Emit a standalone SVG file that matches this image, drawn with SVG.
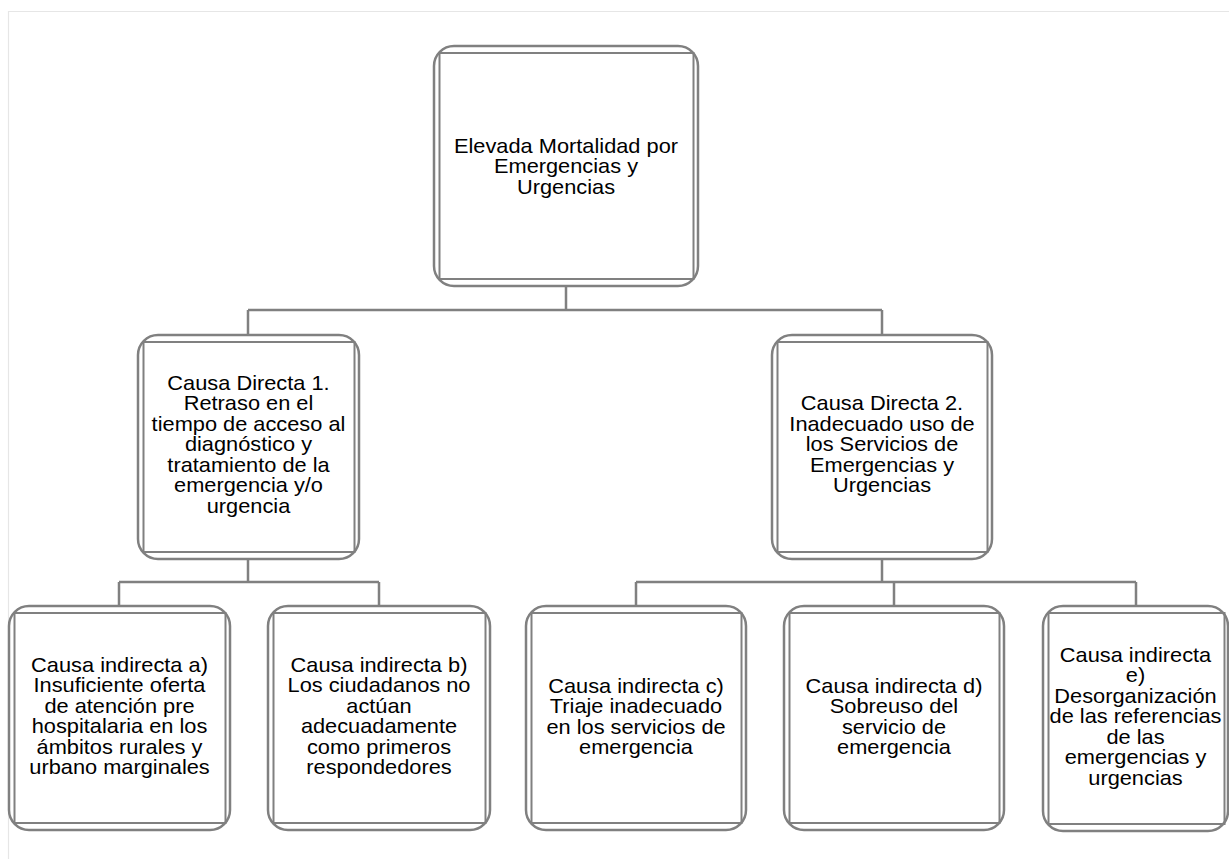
<svg xmlns="http://www.w3.org/2000/svg" width="1229" height="859" viewBox="0 0 1229 859">
<style>
.frame{fill:none;stroke:#e6e6e6;stroke-width:1.2}
.outer{fill:#ffffff;stroke:#808080;stroke-width:2.5}
.inner{fill:none;stroke:#808080;stroke-width:2}
.conn{fill:none;stroke:#808080;stroke-width:2.5}
.lbl{font-family:"Liberation Sans",Arial,sans-serif;font-size:20px;fill:#000000;text-anchor:middle}
</style>
<rect width="1229" height="859" fill="#ffffff"/>
<path class="frame" d="M8.5,859 V11.5 H1229"/>
<g id="connectors">
<path class="conn" d="M566,286 V310 M248,310 H882 M248,310 V335 M882,310 V335"/>
<path class="conn" d="M248,559 V582 M119,582 H379 M119,582 V606 M379,582 V606"/>
<path class="conn" d="M882,559 V582 M636,582 H1136 M636,582 V606 M894,582 V606 M1136,582 V606"/>
</g>
<g id="node-top">
<rect class="outer" x="434" y="46" width="264" height="240" rx="20"/>
<rect class="inner" x="439.5" y="53" width="254" height="226"/>
<text class="lbl" transform="translate(566,0) scale(1.09,1)"><tspan x="0" y="153">Elevada Mortalidad por</tspan><tspan x="0" y="173.5">Emergencias y</tspan><tspan x="0" y="194">Urgencias</tspan></text>
</g>
<g id="node-d1">
<rect class="outer" x="138" y="335" width="221" height="224" rx="20"/>
<rect class="inner" x="143.5" y="342" width="211" height="210"/>
<text class="lbl" transform="translate(248.5,0) scale(1.09,1)"><tspan x="0" y="390">Causa Directa 1.</tspan><tspan x="0" y="410.5">Retraso en el</tspan><tspan x="0" y="431">tiempo de acceso al</tspan><tspan x="0" y="451.5">diagnóstico y</tspan><tspan x="0" y="472">tratamiento de la</tspan><tspan x="0" y="492.5">emergencia y/o</tspan><tspan x="0" y="513">urgencia</tspan></text>
</g>
<g id="node-d2">
<rect class="outer" x="772" y="335" width="220" height="224" rx="20"/>
<rect class="inner" x="777.5" y="342" width="210" height="210"/>
<text class="lbl" transform="translate(882,0) scale(1.09,1)"><tspan x="0" y="410.5">Causa Directa 2.</tspan><tspan x="0" y="431">Inadecuado uso de</tspan><tspan x="0" y="451.5">los Servicios de</tspan><tspan x="0" y="472">Emergencias y</tspan><tspan x="0" y="492.5">Urgencias</tspan></text>
</g>
<g id="node-a">
<rect class="outer" x="9" y="606" width="221" height="224" rx="20"/>
<rect class="inner" x="14.5" y="613" width="211" height="210"/>
<text class="lbl" transform="translate(119.5,0) scale(1.09,1)"><tspan x="0" y="672">Causa indirecta a)</tspan><tspan x="0" y="692.5">Insuficiente oferta</tspan><tspan x="0" y="713">de atención pre</tspan><tspan x="0" y="733.5">hospitalaria en los</tspan><tspan x="0" y="754">ámbitos rurales y</tspan><tspan x="0" y="774.5">urbano marginales</tspan></text>
</g>
<g id="node-b">
<rect class="outer" x="268" y="606" width="222" height="224" rx="20"/>
<rect class="inner" x="273.5" y="613" width="212" height="210"/>
<text class="lbl" transform="translate(379,0) scale(1.09,1)"><tspan x="0" y="672">Causa indirecta b)</tspan><tspan x="0" y="692.5">Los ciudadanos no</tspan><tspan x="0" y="713">actúan</tspan><tspan x="0" y="733.5">adecuadamente</tspan><tspan x="0" y="754">como primeros</tspan><tspan x="0" y="774.5">respondedores</tspan></text>
</g>
<g id="node-c">
<rect class="outer" x="526" y="606" width="220" height="224" rx="20"/>
<rect class="inner" x="531.5" y="613" width="210" height="210"/>
<text class="lbl" transform="translate(636,0) scale(1.09,1)"><tspan x="0" y="693">Causa indirecta c)</tspan><tspan x="0" y="713.5">Triaje inadecuado</tspan><tspan x="0" y="734">en los servicios de</tspan><tspan x="0" y="754.5">emergencia</tspan></text>
</g>
<g id="node-d">
<rect class="outer" x="784" y="606" width="220" height="224" rx="20"/>
<rect class="inner" x="789.5" y="613" width="210" height="210"/>
<text class="lbl" transform="translate(894,0) scale(1.09,1)"><tspan x="0" y="693">Causa indirecta d)</tspan><tspan x="0" y="713.5">Sobreuso del</tspan><tspan x="0" y="734">servicio de</tspan><tspan x="0" y="754.5">emergencia</tspan></text>
</g>
<g id="node-e">
<rect class="outer" x="1043" y="606" width="185" height="225" rx="20"/>
<rect class="inner" x="1048.5" y="613" width="176" height="211"/>
<text class="lbl" transform="translate(1135.5,0) scale(1.09,1)"><tspan x="0" y="662">Causa indirecta</tspan><tspan x="0" y="682.5">e)</tspan><tspan x="0" y="703">Desorganización</tspan><tspan x="0" y="723.5">de las referencias</tspan><tspan x="0" y="744">de las</tspan><tspan x="0" y="764.5">emergencias y</tspan><tspan x="0" y="785">urgencias</tspan></text>
</g>
</svg>
